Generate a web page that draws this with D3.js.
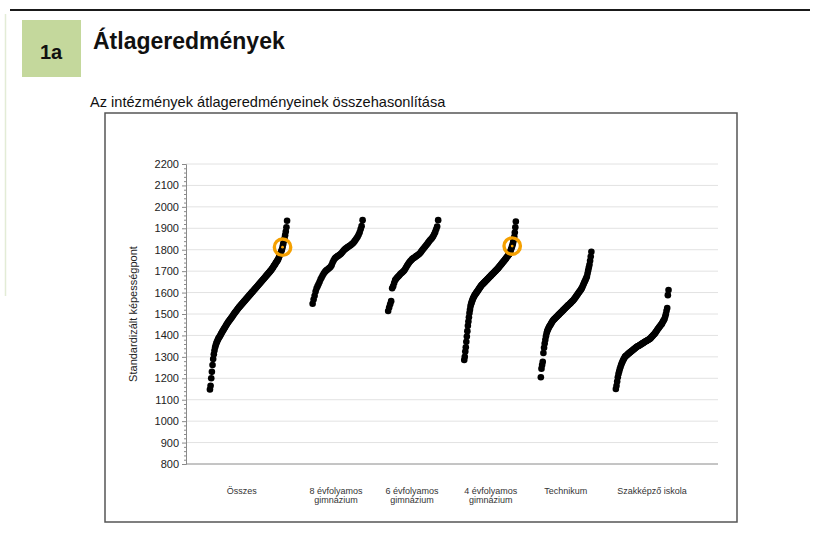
<!DOCTYPE html>
<html>
<head>
<meta charset="utf-8">
<script src="https://cdn.jsdelivr.net/npm/d3@7"></script>
<style>
  body { margin: 0; background: #fff; }
  svg { display: block; font-family: "Liberation Sans", Arial, sans-serif; }
</style>
</head>
<body>
<script>
// category labels (one entry per line of text)
var categories = [["Összes"], ["8 évfolyamos", "gimnázium"], ["6 évfolyamos", "gimnázium"],
  ["4 évfolyamos", "gimnázium"], ["Technikum"], ["Szakképző iskola"]];

// school averages, sorted, one array per school type
var osszes = [1148,1165,1200,1230,1262,1290,1312,1330,1345,1355,
  1364,1372,1379,1385,1390,1395,1400,1406,1411,1417,
  1422,1427,1432,1437,1442,1447,1452,1457,1461,1466,
  1470,1474,1478,1482,1486,1491,1495,1500,1504,1508,
  1512,1516,1520,1524,1528,1532,1535,1539,1542,1546,
  1549,1553,1556,1560,1563,1567,1570,1574,1577,1581,
  1584,1588,1591,1595,1598,1602,1605,1608,1612,1615,
  1619,1622,1626,1629,1633,1636,1640,1643,1647,1650,
  1654,1657,1661,1664,1668,1671,1675,1679,1682,1686,
  1689,1693,1696,1700,1704,1707,1712,1716,1721,1726,
  1730,1735,1740,1745,1749,1754,1761,1769,1777,1785,
  1793,1800,1812,1826,1840,1852,1868,1885,1905,1935];
var evf8 = [1548,1568,1585,1605,1620,1630,1640,1650,1662,1670,
  1680,1688,1695,1700,1705,1708,1712,1716,1720,1728,
  1740,1750,1758,1763,1767,1770,1773,1776,1780,1784,
  1790,1796,1801,1805,1808,1812,1815,1818,1821,1825,
  1829,1834,1840,1846,1853,1860,1870,1880,1895,1910,
  1938];
var evf6 = [1514,1530,1545,1560,1620,1630,1645,1658,1664,1670,
  1675,1680,1685,1690,1694,1698,1703,1710,1718,1726,
  1733,1740,1746,1751,1756,1760,1763,1766,1770,1773,
  1776,1780,1785,1791,1797,1803,1809,1815,1821,1827,
  1833,1839,1845,1850,1856,1863,1872,1882,1895,1908,
  1938];
var evf4 = [1285,1300,1325,1345,1370,1395,1420,1445,1465,1485,
  1505,1520,1535,1545,1553,1560,1567,1573,1578,1583,
  1588,1591,1595,1598,1602,1605,1609,1612,1616,1620,
  1623,1627,1630,1634,1636,1639,1641,1644,1646,1649,
  1651,1654,1656,1659,1661,1664,1666,1669,1671,1674,
  1676,1679,1681,1684,1686,1689,1691,1694,1696,1699,
  1701,1704,1706,1709,1711,1714,1717,1720,1723,1726,
  1729,1732,1735,1738,1741,1744,1747,1750,1753,1756,
  1759,1763,1766,1769,1772,1776,1779,1782,1789,1796,
  1803,1810,1817,1826,1836,1847,1860,1880,1905,1932];
var technikum = [1205,1245,1262,1277,1318,1342,1362,1380,1396,1410,
  1420,1428,1434,1440,1445,1450,1455,1460,1465,1470,
  1473,1476,1479,1482,1485,1488,1491,1494,1497,1500,
  1503,1506,1509,1512,1515,1518,1521,1524,1527,1530,
  1533,1536,1539,1542,1544,1547,1550,1553,1556,1559,
  1562,1565,1569,1573,1577,1582,1586,1590,1594,1599,
  1603,1607,1611,1616,1620,1627,1634,1641,1648,1654,
  1661,1668,1675,1689,1703,1717,1730,1748,1768,1790];
var szakkepzo = [1150,1165,1185,1205,1220,1232,1243,1253,1262,1270,
  1277,1284,1290,1296,1301,1304,1306,1309,1312,1315,
  1317,1320,1322,1325,1327,1330,1332,1335,1337,1340,
  1342,1345,1347,1349,1351,1352,1354,1356,1358,1360,
  1362,1364,1366,1368,1370,1372,1374,1375,1377,1379,
  1381,1383,1385,1388,1392,1395,1398,1402,1405,1408,
  1413,1417,1422,1426,1431,1435,1439,1443,1447,1451,
  1455,1461,1467,1472,1478,1488,1500,1515,1528,1588,
  1612];

// x values (0-100) of the first and last school in each group, and of the labels
var xFrom = [4.5, 23.8, 38.0, 52.3, 66.7, 80.8];
var xTo = [19.0, 33.2, 47.4, 62.0, 76.2, 90.7];
var labelX = [10.5, 28.2, 42.5, 57.3, 71.4, 87.6];

// the institution marked with a circle (series index, rank)
var markSeries = [0, 3];
var markRank = [112, 92];

var yTicks = [800,900,1000,1100,1200,1300,1400,1500,1600,1700,1800,1900,2000,2100,2200];

var series = [osszes, evf8, evf6, evf4, technikum, szakkepzo];

var svg = d3.select("body").append("svg").attr("width", 821).attr("height", 533);

// page header
svg.append("line").attr("x1", 10).attr("x2", 810).attr("y1", 10).attr("y2", 10)
  .attr("stroke", "#1a1a1a").attr("stroke-width", 2);
svg.append("line").attr("x1", 5.5).attr("x2", 5.5).attr("y1", 14).attr("y2", 296)
  .attr("stroke", "#e3ecd6").attr("stroke-width", 1.5);
svg.append("rect").attr("x", 22).attr("y", 20).attr("width", 59).attr("height", 57)
  .attr("fill", "#c4d89c");
svg.append("text").attr("x", 51).attr("y", 59).attr("text-anchor", "middle")
  .style("font-size", "20px").style("font-weight", "bold").attr("fill", "#111").text("1a");
svg.append("text").attr("x", 93).attr("y", 49)
  .style("font-size", "23px").style("font-weight", "bold").attr("fill", "#111").text("Átlageredmények");
svg.append("text").attr("x", 90).attr("y", 107)
  .style("font-size", "14.6px").attr("fill", "#111").text("Az intézmények átlageredményeinek összehasonlítása");

// chart frame
svg.append("rect").attr("x", 105).attr("y", 113).attr("width", 632).attr("height", 409)
  .attr("fill", "#fff").attr("stroke", "#555").attr("stroke-width", 1.5);

var x = d3.scaleLinear().domain([0, 100]).range([186, 718]);
var y = d3.scaleLinear().domain([800, 2200]).range([464, 164]);

// grid
svg.append("g").selectAll("line").data(yTicks.slice(1)).enter().append("line")
  .attr("x1", x(0)).attr("x2", x(100))
  .attr("y1", function(d){ return y(d); }).attr("y2", function(d){ return y(d); })
  .attr("stroke", "#e2e2e2").attr("stroke-width", 1);
svg.append("line").attr("x1", x(0)).attr("x2", x(100)).attr("y1", y(800)).attr("y2", y(800))
  .attr("stroke", "#8a8a8a").attr("stroke-width", 1);

// y axis with minor ticks
var minor = d3.range(800, 2201, 20).filter(function(d){ return d % 100 !== 0; });
var gMinor = svg.append("g").attr("transform", "translate(" + x(0) + ",0)")
  .call(d3.axisLeft(y).tickValues(minor).tickSize(2).tickSizeOuter(0).tickFormat(""));
var gy = svg.append("g").attr("transform", "translate(" + x(0) + ",0)")
  .call(d3.axisLeft(y).tickValues(yTicks).tickSize(4).tickSizeOuter(0).tickPadding(3)
    .tickFormat(d3.format("d")));
gMinor.selectAll("path,line").attr("stroke", "#8a8a8a");
gy.selectAll("path,line").attr("stroke", "#8a8a8a");
gy.selectAll("text").attr("fill", "#222").style("font-size", "11px")
  .style("font-family", "'Liberation Sans', Arial, sans-serif");

svg.append("text").attr("transform", "translate(137," + y(1500) + ") rotate(-90)")
  .attr("text-anchor", "middle").style("font-size", "11px").attr("fill", "#222")
  .text("Standardizált képességpont");

// dots
series.forEach(function(vals, k){
  var rank = d3.scaleLinear().domain([0, vals.length - 1]).range([xFrom[k], xTo[k]]);
  svg.append("g").selectAll("circle").data(vals).enter().append("circle")
    .attr("cx", function(d, i){ return x(rank(i)); })
    .attr("cy", function(d){ return y(d); })
    .attr("r", 3.3).attr("fill", "#000");
});

// marked institution
markSeries.forEach(function(k, j){
  var vals = series[k];
  var rank = d3.scaleLinear().domain([0, vals.length - 1]).range([xFrom[k], xTo[k]]);
  var cx = x(rank(markRank[j])), cy = y(vals[markRank[j]]);
  svg.append("circle").attr("cx", cx).attr("cy", cy).attr("r", 8.2)
    .attr("fill", "none").attr("stroke", "#f5a000").attr("stroke-width", 3.4);
  svg.append("circle").attr("cx", cx).attr("cy", cy).attr("r", 1.4).attr("fill", "#f5a000");
});

// category labels
categories.forEach(function(lines, k){
  var t = svg.append("text").attr("text-anchor", "middle")
    .style("font-size", "9px").attr("fill", "#333");
  lines.forEach(function(s, j){
    t.append("tspan").attr("x", x(labelX[k])).attr("y", 494 + j * 8.5).text(s);
  });
});
</script>
</body>
</html>
